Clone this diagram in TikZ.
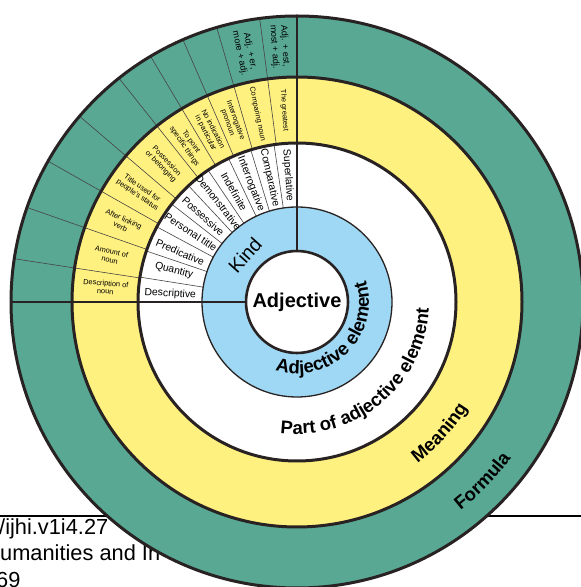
\documentclass[tikz,border=0pt]{standalone}
\usepackage{fontspec}
\setmainfont{Liberation Sans}
\usetikzlibrary{decorations.text}
\definecolor{ringblue}{RGB}{159,216,244}
\definecolor{ringyellow}{RGB}{255,241,128}
\definecolor{ringgreen}{RGB}{88,168,148}
\definecolor{edgec}{RGB}{40,34,34}
\tikzset{
  ringedge/.style={draw=edgec, line width=3pt},
  sepline/.style={draw=edgec!85, line width=0.6pt},
  axisline/.style={draw=edgec, line width=1.2pt},
  wlab/.style={font=\fontsize{10.4}{12}\selectfont, inner sep=0pt},
  ylab/.style={font=\fontsize{7.4}{8.2}\selectfont, align=center, inner sep=0pt},
  glab/.style={font=\fontsize{9}{10.5}\selectfont, align=center, inner sep=0pt},
  pagetext/.style={font=\fontsize{21.8}{24}\selectfont, anchor=base west, inner sep=0pt},
}
\begin{document}
\begin{tikzpicture}[x=1pt,y=1pt]
\useasboundingbox (0,0) rectangle (581,587);
% page background behind the figure
\draw[line width=1.8pt] (0,71) -- (581,71);
\node[pagetext] (p1) at (-1,52) {/ijhi.v1i4.27};
\node[pagetext] (p2) at (0,26) {umanities and In};
\node[pagetext] (p3) at (-4,0) {69};
\coordinate (C) at (297,285);
% ring fills
\fill[ringgreen] (C) circle (286);
\fill[ringyellow] (C) circle (225);
\fill[white] (C) circle (159);
\fill[ringblue] (C) circle (95);
\fill[white] (C) circle (51);
% separators in white ring
\foreach \a in {8.3,16.9,25.5,34,43,52,61.8,71.3,81}
  \draw[sepline] (C) ++(90+\a:95) -- ++(90+\a:64);
% separators in yellow and green rings
\foreach \a in {7.5,16.3,23.5,30.8,38.5,49.5,60.5,70.7,81.3}
  \draw[sepline] (C) ++(90+\a:159) -- ++(90+\a:127);
% main axes
\draw[axisline] (C) ++(90:51) -- ++(90:235);
\draw[axisline] (C) ++(180:51) -- ++(180:235);
% ring borders
\draw[ringedge] (C) circle (286);
\draw[ringedge] (C) circle (225);
\draw[ringedge] (C) circle (159);
\draw[draw=edgec, line width=1.3pt] (C) circle (95);
\draw[draw=edgec, line width=2.6pt] (C) circle (51);
% centre
\node[font=\fontsize{20}{20}\selectfont\bfseries] (adj) at (C) {Adjective};
\path (C) ++(138:70) node[font=\fontsize{19.5}{19.5}\selectfont, rotate=48] (kind) {Kind};
% white ring labels
\foreach \a/\t [count=\i] in {4.1/Superlative,12.5/Comparative,21.3/Interrogative,29.7/Indefinite,38.2/Demonstrative,47.6/Possessive,56.7/Personal title,66.9/Predicative,75.7/Quantity,86.4/Descriptive}
  \path (C) ++(90+\a:127) node[wlab, rotate=\a-90] (w\i) {\t};
% yellow ring labels
\foreach \a/\t [count=\i] in {3.8/The greatest,11.9/Comparing noun,19.9/Interrogative\\pronoun,27.2/No indication\\in particular,34.7/To point\\specific things,44/Possession\\or belonging,55/Title used for\\people's status,65.6/After linking\\verb,76/Amount of\\noun,85.6/Description of\\noun}
  \path (C) ++(90+\a:192) node[ylab, rotate=\a-90] (y\i) {\t};
% green ring labels
\path (C) ++(93.9:256) node[glab, rotate=3.9-90] (g1) {Adj. + est,\\most + adj.};
\path (C) ++(101.8:255) node[glab, rotate=11.8-90] (g2) {Adj. + er,\\more + adj.};
% curved ring titles
\path[decorate, decoration={text along path, text align=center,
  text={|\fontsize{18.5}{18.5}\selectfont\bfseries|Adjective element}}]
  (C) ++(-140:72) arc[start angle=-140, end angle=50, radius=72];
\path[decorate, decoration={text along path, text align=center,
  text={|\fontsize{18.5}{18.5}\selectfont\bfseries|Part of adjective element}}]
  (C) ++(-140:132) arc[start angle=-140, end angle=40, radius=132];
\path[decorate, decoration={text along path, text align=center,
  text={|\fontsize{18.5}{18.5}\selectfont\bfseries|Meaning}}]
  (C) ++(-80:201) arc[start angle=-80, end angle=-5, radius=201];
\path[decorate, decoration={text along path, text align=center,
  text={|\fontsize{18.5}{18.5}\selectfont\bfseries|Formula}}]
  (C) ++(-80:265) arc[start angle=-80, end angle=-8, radius=265];
\end{tikzpicture}
\end{document}
